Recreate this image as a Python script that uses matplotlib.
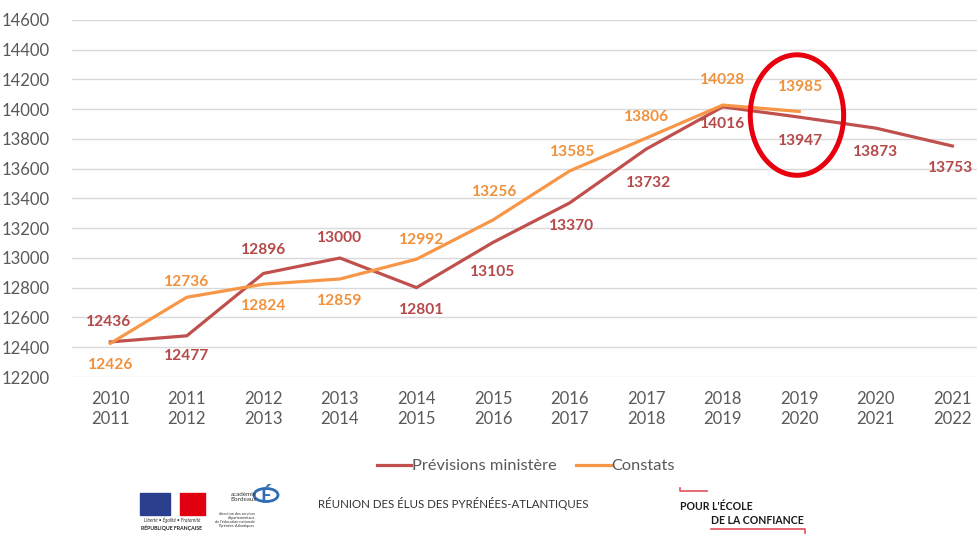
import matplotlib.pyplot as plt
from matplotlib.patches import Ellipse, Rectangle, Circle
from matplotlib.lines import Line2D

plt.rcParams['font.family'] = ['Lato', 'DejaVu Sans']

# données
annees = ['2010\n2011', '2011\n2012', '2012\n2013', '2013\n2014', '2014\n2015', '2015\n2016',
          '2016\n2017', '2017\n2018', '2018\n2019', '2019\n2020', '2020\n2021', '2021\n2022']
previsions = [12436, 12477, 12896, 13000, 12801, 13105, 13370, 13732, 14016, 13947, 13873, 13753]
constats = [12426, 12736, 12824, 12859, 12992, 13256, 13585, 13806, 14028, 13985]

# décalage des étiquettes (pixels)
off_prev = [(-2, 20), (0, -20), (0, 23), (0, 20), (5, -22), (0, -30),
            (2, -23), (2, -34), (0, -17), (1, -24), (0, -24), (-2, -22)]
off_const = [(0, -22), (0, 15), (0, -22), (0, -22), (5, 19), (2, 28),
             (3, 19), (0, 21), (0, 25), (1, 24)]

c_prev = '#C0504D'
c_const = '#F79646'
c_prev_txt = '#B5494A'
c_const_txt = '#F0913C'
gris = '#595959'

fig = plt.figure(figsize=(9.78, 5.34), dpi=100)
ax = fig.add_axes([72 / 978, 157 / 534, 906 / 978, 357 / 534])

x_prev = list(range(len(previsions)))
x_const = list(range(len(constats)))

ax.plot(x_prev, previsions, color=c_prev, lw=2.3, solid_joinstyle='miter', zorder=3)
ax.plot(x_const, constats, color=c_const, lw=2.3, solid_joinstyle='miter', zorder=4)

for x, v, o in zip(x_prev, previsions, off_prev):
    ax.annotate(str(v), (x, v), xytext=o, textcoords='offset pixels', ha='center', va='center',
                color=c_prev_txt, fontsize=11.2, fontweight='bold', zorder=5)
for x, v, o in zip(x_const, constats, off_const):
    ax.annotate(str(v), (x, v), xytext=o, textcoords='offset pixels', ha='center', va='center',
                color=c_const_txt, fontsize=11.2, fontweight='bold', zorder=5)

# cercle rouge
ax.add_patch(Ellipse((8.97, 13961), 1.22, 810, fill=False, ec='#E8000F', lw=3.6, zorder=6,
                     clip_on=False))

ax.set_ylim(12200, 14600)
ax.set_xlim(-0.5, 11.335)
ax.set_yticks(range(12200, 14601, 200))
ax.set_xticks(x_prev)
ax.set_xticklabels(annees, linespacing=1.35)
ax.grid(axis='y', color='#D9D9D9', lw=1)
ax.set_axisbelow(True)
for spine in ax.spines.values():
    spine.set_visible(False)
ax.tick_params(length=0, labelsize=12, labelcolor=gris)
ax.tick_params(axis='y', pad=16)
ax.tick_params(axis='x', pad=10)

# légende
handles = [Line2D([], [], color=c_prev, lw=2.3), Line2D([], [], color=c_const, lw=2.3)]
fig.legend(handles, ['Prévisions ministère', 'Constats'], loc='center', bbox_to_anchor=(526 / 978, 1 - 466 / 534),
           ncol=2, frameon=False, fontsize=11.8, labelcolor=gris, handlelength=2.1, handletextpad=0.05,
           columnspacing=1.2)

# pied de page
def fy(y):
    return 1 - y / 534

def fx(x):
    return x / 978

fig.patches.append(Rectangle((fx(140), fy(515)), fx(30), 22 / 534, color='#2B3F8F', transform=fig.transFigure))
fig.patches.append(Rectangle((fx(180), fy(515)), fx(25), 22 / 534, color='#E1000F', transform=fig.transFigure))
fig.text(fx(172), fy(520), 'Liberté • Égalité • Fraternité', fontsize=3.4, style='italic', ha='center', va='center',
         color='#333333')
fig.text(fx(172), fy(528), 'RÉPUBLIQUE FRANÇAISE', fontsize=3.8, fontweight='bold', ha='center', va='center',
         color='#222222')

fig.patches.append(Circle((fx(266), fy(495)), 12 / 978, fill=False, ec='#2E6DB4', lw=2,
                          transform=fig.transFigure))
fig.text(fx(266), fy(496), 'É', fontsize=14, fontweight='bold', ha='center', va='center', color='#2E6DB4')
fig.text(fx(257), fy(497), 'académie\nBordeaux', fontsize=4.5, ha='right', va='center', color='#333333',
         linespacing=1.1)
fig.text(fx(255), fy(520), 'direction des services\ndépartementaux\nde l\'éducation nationale\nPyrénées-Atlantiques',
         fontsize=2.8, ha='right', va='center', color='#333333', linespacing=1.1)

fig.text(fx(318), fy(503), 'RÉUNION DES ÉLUS DES PYRÉNÉES-ATLANTIQUES', fontsize=8.3, ha='left', va='center',
         color='#333333')

fig.lines.append(Line2D([fx(680), fx(680), fx(707)], [fy(488), fy(491), fy(491)], color='#E0505A', lw=1.2,
                        transform=fig.transFigure))
fig.lines.append(Line2D([fx(711), fx(805), fx(805)], [fy(529), fy(529), fy(533)], color='#E0505A', lw=1.2,
                        transform=fig.transFigure))
fig.text(fx(680), fy(507), 'POUR L\'ÉCOLE', fontsize=7.6, fontweight='bold', ha='left', va='center', color='#1A1A1A')
fig.text(fx(711), fy(520), 'DE LA CONFIANCE', fontsize=7.6, fontweight='bold', ha='left', va='center', color='#1A1A1A')

fig.savefig('out.png', dpi=100)
